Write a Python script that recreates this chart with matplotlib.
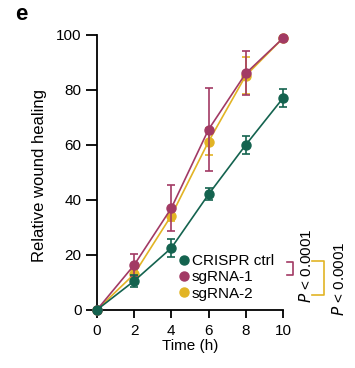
import matplotlib.pyplot as plt
from matplotlib.lines import Line2D
import numpy as np

plt.rcParams['font.family'] = ['Liberation Sans', 'DejaVu Sans']

# データ
time_h = [0, 2, 4, 6, 8, 10]
ctrl = [0, 10.5, 22.5, 42, 60, 77]
ctrl_err = [0, 2.3, 3.3, 2.2, 3.2, 3.3]
sg1 = [0, 16.3, 37, 65.6, 86, 98.8]
sg1_err = [0, 4.0, 8.3, 15.2, 8.0, 0]
sg2 = [0, 13, 34.3, 61.2, 85.2, 98.8]
sg2_err = [0, 1.5, 2.0, 5.0, 6.8, 0]

green = '#14634f'
magenta = '#a23a64'
yellow = '#e2b425'
fs = 11

fig = plt.figure(figsize=(3.55, 3.68), dpi=100)
ax = fig.add_axes([0.273, 0.158, 0.524, 0.747])

# 線と誤差棒
for y, e, c, lab, z in [(sg2, sg2_err, yellow, 'sgRNA-2', 2),
                        (sg1, sg1_err, magenta, 'sgRNA-1', 3),
                        (ctrl, ctrl_err, green, 'CRISPR ctrl', 4)]:
    ax.errorbar(time_h, y, yerr=e, color=c, marker='o', markersize=6.5,
                linewidth=1.2, elinewidth=1.2, capsize=3, capthick=1.2,
                label=lab, zorder=z, clip_on=False)

ax.set_xlim(0, 10)
ax.set_ylim(0, 100)
ax.set_xticks([0, 2, 4, 6, 8, 10])
ax.set_yticks([0, 20, 40, 60, 80, 100])
ax.spines['top'].set_visible(False)
ax.spines['right'].set_visible(False)
ax.spines['left'].set_linewidth(1.3)
ax.spines['bottom'].set_linewidth(1.3)
ax.tick_params(axis='y', length=8, width=1.3, labelsize=fs, pad=3)
ax.tick_params(axis='x', length=6, width=1.3, labelsize=fs, pad=4)
ax.set_xlabel('Time (h)', fontsize=fs, labelpad=1)
ax.set_ylabel('Relative wound healing', fontsize=12)
ax.yaxis.set_label_coords(-0.27, 0.49)

# 凡例
handles = [Line2D([], [], color=c, marker='o', linestyle='', markersize=6.5)
           for c in [green, magenta, yellow]]
ax.legend(handles, ['CRISPR ctrl', 'sgRNA-1', 'sgRNA-2'], loc='lower right',
          bbox_to_anchor=(1.01, -0.005), frameon=False, fontsize=fs,
          handletextpad=0.05, borderaxespad=0.3, labelspacing=0.15,
          handlelength=1.0)

# 有意差の括弧
fig.add_artist(Line2D([287/355, 293/355, 293/355, 287/355],
                      [1-262/368, 1-262/368, 1-275/368, 1-275/368],
                      color=magenta, linewidth=1.2))
fig.add_artist(Line2D([312/355, 324/355, 324/355, 312/355],
                      [1-261/368, 1-261/368, 1-295/368, 1-295/368],
                      color=yellow, linewidth=1.2))
fig.text(306/355, 1-266/368, '$P$ < 0.0001', rotation=90, fontsize=fs,
         ha='center', va='center')
fig.text(339/355, 1-279/368, '$P$ < 0.0001', rotation=90, fontsize=fs,
         ha='center', va='center')

fig.text(15/355, 1-15/368, 'e', fontsize=16, fontweight='bold',
         ha='left', va='center')

plt.savefig('out.png', dpi=100)
